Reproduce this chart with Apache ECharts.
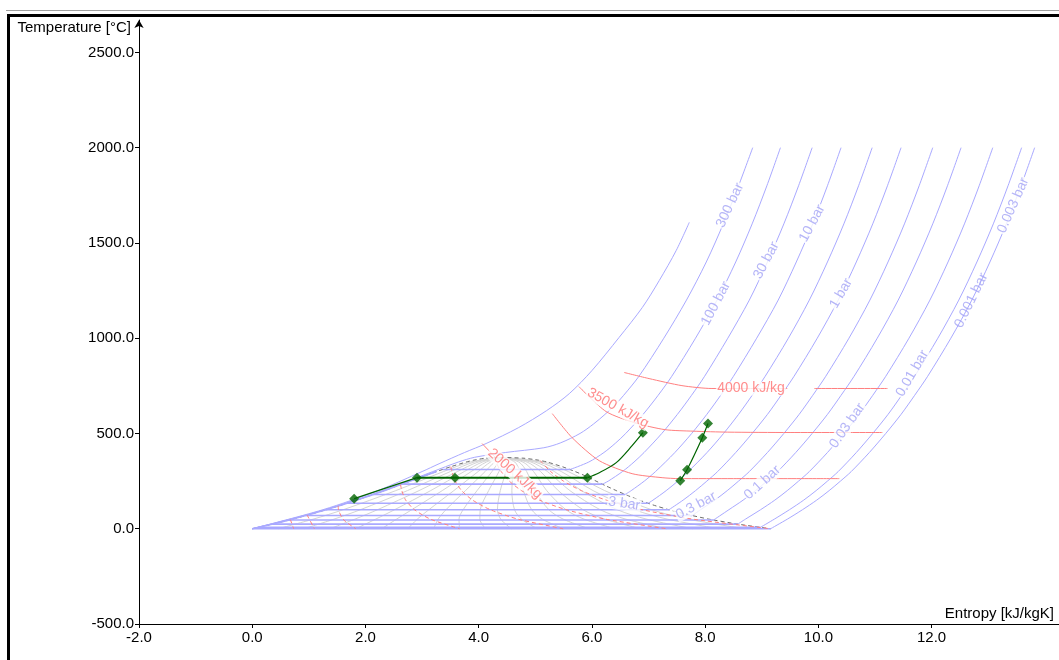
<!DOCTYPE html>
<html><head><meta charset="utf-8">
<script src="https://cdn.jsdelivr.net/npm/echarts@6/dist/echarts.min.js"></script>
<style>html,body{margin:0;padding:0;background:#fff}#c{width:1059px;height:660px}</style>
</head><body><div id="c"></div>
<script>
// ---- axis ticks ----
const xTicks = [-2, 0, 2, 4, 6, 8, 10, 12];
const yTicks = [-500, 0, 500, 1000, 1500, 2000, 2500];

// ---- saturation dome (T in C, s in kJ/kgK) ----
const satT  = [0, 25, 50, 75, 100, 125, 150, 175, 200, 225, 250, 275, 300, 325, 350, 360, 370, 374];
const satSf = [0, 0.367, 0.704, 1.016, 1.307, 1.581, 1.842, 2.091, 2.331, 2.564, 2.793, 3.022, 3.255, 3.501, 3.778, 3.916, 4.113, 4.41];
const satSg = [9.156, 8.557, 8.075, 7.682, 7.354, 7.077, 6.838, 6.626, 6.431, 6.246, 6.073, 5.901, 5.705, 5.482, 5.211, 5.053, 4.800, 4.41];

// ---- isobars (superheated part, [s, T]) ----
const p1000 = [[0,0],[1.25,100],[2.22,200],[3.0,300],[3.30,341],[3.75,400],[4.13,447],[4.7,530],[5.2,620],[5.60,709],[6.0,830],[6.48,1004],[6.89,1161],[7.19,1303],[7.49,1461],[7.72,1608]];
const p300 = [[0,0],[1.29,100],[2.30,200],[3.19,300],[3.64,350],[3.93,375],[4.47,400],[5.15,425],[5.44,450],[5.79,500],[6.03,550],[6.23,600],[6.41,650],[6.56,700],[6.83,800],[7.27,1000],[7.67,1200],[8.02,1400],[8.32,1600],[8.59,1800],[8.84,2000]];
const p100 = [[5.614,311],[5.944,350],[6.212,400],[6.419,450],[6.597,500],[6.903,600],[7.169,700],[7.41,800],[7.83,1000],[8.21,1200],[8.54,1400],[8.83,1600],[9.09,1800],[9.33,2000]];
const p30 = [[6.186,233.9],[6.289,250],[6.539,300],[6.743,350],[6.921,400],[7.234,500],[7.509,600],[7.759,700],[7.99,800],[8.40,1000],[8.78,1200],[9.10,1400],[9.39,1600],[9.65,1800],[9.89,2000]];
const p10 = [[6.586,179.9],[6.694,200],[6.925,250],[7.123,300],[7.465,400],[7.762,500],[8.029,600],[8.273,700],[8.50,800],[8.91,1000],[9.29,1200],[9.61,1400],[9.90,1600],[10.16,1800],[10.40,2000]];
const p3 = [[6.992,133.5],[7.078,150],[7.312,200],[7.517,250],[7.702,300],[8.033,400],[8.325,500],[8.589,600],[8.83,700],[9.06,800],[9.47,1000],[9.84,1200],[10.16,1400],[10.45,1600],[10.71,1800],[10.95,2000]];
const p1 = [[7.359,99.6],[7.61,150],[7.83,200],[8.03,250],[8.22,300],[8.54,400],[8.83,500],[9.10,600],[9.34,700],[9.57,800],[9.98,1000],[10.35,1200],[10.67,1400],[10.96,1600],[11.22,1800],[11.46,2000]];
const p03 = [[7.768,69.1],[7.92,100],[8.17,150],[8.39,200],[8.59,250],[8.78,300],[9.10,400],[9.39,500],[9.66,600],[9.90,700],[10.13,800],[10.54,1000],[10.91,1200],[11.23,1400],[11.52,1600],[11.78,1800],[12.02,2000]];
const p01 = [[8.149,45.8],[8.42,100],[8.67,150],[8.89,200],[9.09,250],[9.28,300],[9.60,400],[9.89,500],[10.16,600],[10.40,700],[10.63,800],[11.04,1000],[11.41,1200],[11.73,1400],[12.02,1600],[12.28,1800],[12.52,2000]];
const p003 = [[8.576,24.1],[8.71,50],[8.98,100],[9.23,150],[9.45,200],[9.65,250],[9.84,300],[10.16,400],[10.45,500],[10.72,600],[10.96,700],[11.19,800],[11.60,1000],[11.97,1200],[12.29,1400],[12.58,1600],[12.84,1800],[13.08,2000]];
const p001 = [[8.975,7],[9.22,50],[9.49,100],[9.74,150],[9.96,200],[10.16,250],[10.35,300],[10.67,400],[10.96,500],[11.23,600],[11.47,700],[11.70,800],[12.11,1000],[12.48,1200],[12.80,1400],[13.09,1600],[13.35,1800],[13.59,2000]];
// 0.003 bar and 0.001 bar lines lie on top of each other (triple-point pressure)
const p0003 = [[9.156,0],[9.45,50],[9.72,100],[9.97,150],[10.19,200],[10.39,250],[10.58,300],[10.90,400],[11.19,500],[11.46,600],[11.70,700],[11.93,800],[12.34,1000],[12.71,1200],[13.03,1400],[13.32,1600],[13.58,1800],[13.82,2000]];

// isobars inside the dome: [s_f, s_g, Tsat]
const domeIsobars = [[3.360,5.614,311.0],[2.646,6.186,233.9],[2.138,6.586,179.9],[1.672,6.992,133.5],[1.303,7.359,99.6],[0.944,7.768,69.1],[0.649,8.149,45.8],[0.354,8.576,24.1],[0.106,8.975,7.0],[0,9.156,0]];

// quality lines: s at T = 0, 50, 100, 200, 300, 350, 374
const qualT = [0, 50, 100, 200, 300, 350, 374];
const qualS = [
 [0.458,1.073,1.609,2.536,3.378,3.850,4.41],
 [0.916,1.441,1.912,2.741,3.500,3.921,4.41],
 [1.373,1.810,2.214,2.946,3.623,3.993,4.41],
 [1.831,2.178,2.516,3.151,3.745,4.065,4.41],
 [2.289,2.547,2.819,3.356,3.868,4.136,4.41],
 [2.747,2.915,3.121,3.561,3.990,4.208,4.41],
 [3.205,3.284,3.423,3.766,4.113,4.280,4.41],
 [3.662,3.652,3.726,3.971,4.235,4.351,4.41],
 [4.120,4.021,4.028,4.176,4.358,4.423,4.41],
 [4.578,4.390,4.331,4.381,4.480,4.495,4.41],
 [5.036,4.758,4.633,4.586,4.603,4.566,4.41],
 [5.494,5.127,4.935,4.791,4.725,4.638,4.41],
 [5.951,5.495,5.238,4.996,4.848,4.709,4.41],
 [6.409,5.864,5.540,5.201,4.970,4.781,4.41],
 [6.867,6.232,5.842,5.406,5.093,4.853,4.41],
 [7.325,6.601,6.145,5.611,5.215,4.924,4.41],
 [7.783,6.969,6.447,5.816,5.338,4.996,4.41],
 [8.240,7.338,6.749,6.021,5.460,5.068,4.41],
 [8.698,7.706,7.052,6.226,5.583,5.139,4.41]
];

// ---- isenthalps [s, T] ----
const h200 = [[0.674,47.8],[0.732,0]];
const h300 = [[0.970,71.6],[1.098,0]];
const h500 = [[1.519,119],[1.524,100],[1.603,50],[1.830,0]];
const h1000 = [[2.619,232],[2.642,200],[2.711,150],[2.864,100],[3.151,50],[3.661,0]];
const h1500 = [[3.508,326],[3.526,300],[3.585,250],[3.699,200],[3.893,150],[4.204,100],[4.698,50],[5.491,0]];
const h2000out = [[4.06,447],[4.30,373]];
const h2000 = [[4.30,373],[4.306,350],[4.398,300],[4.541,250],[4.756,200],[5.074,150],[5.544,100],[6.245,50],[7.322,0]];
const h2500 = [[5.09,357.7],[5.109,350],[5.271,300],[5.497,250],[5.813,200],[6.256,150],[6.884,100],[7.793,50],[9.152,0]];
const h3000 = [[5.30,604],[5.65,478],[6.13,357],[6.71,289],[7.24,268],[7.54,263],[8.5,263],[10.37,263]];
const h3500 = [[5.77,746],[6.25,615],[6.76,556],[7.29,520],[7.79,512],[8.4,507],[9.5,505],[11.13,505]];
const h4000a = [[6.57,820],[7.01,788],[7.59,751],[8.12,736],[9.45,736]];
const h4000b = [[9.93,736],[11.22,736]];

// ---- cycle ----
const cyclePump = [[1.80,158],[2.91,268]];
const cycleBoil = [[2.91,268],[3.58,268],[5.92,268]];
const cycleSuper = [[5.92,268],[6.13,294],[6.43,347],[6.71,436],[6.90,504]];
const cycleTurb = [[7.56,252],[7.68,310],[7.95,478],[8.05,552]];
const cyclePoints = [[1.80,158],[2.91,268],[3.58,268],[5.92,268],[6.90,504],[7.56,252],[7.68,310],[7.95,478],[8.05,552]];

// ---- labels: [text, s, T, rotate, whiteBox] ----
const isobarLabels = [
 ['300 bar', 8.44, 1697, 65, 1], ['100 bar', 8.19, 1182, 62, 1], ['30 bar', 9.08, 1408, 62, 1],
 ['10 bar', 9.89, 1603, 62, 1], ['1 bar', 10.40, 1235, 60, 1], ['0.003 bar', 13.44, 1697, 66, 1],
 ['0.001 bar', 12.70, 1198, 64, 0], ['0.01 bar', 11.66, 815, 60, 1], ['0.03 bar', 10.51, 541, 55, 1],
 ['0.1 bar', 9.01, 242, 42, 1], ['0.3 bar', 7.84, 121, 28, 1], ['3 bar', 6.57, 131, -8, 1]
];
const enthalpyLabels = [
 ['4000 kJ/kg', 8.81, 736, 0, 1], ['3500 kJ/kg', 6.46, 633, -29, 1], ['2000 kJ/kg', 4.64, 289, -42, 1]
];

// ================= build =================
const BLUE = '#a9a9ff', RED = '#ff7f7f', GREEN = '#006400';
const series = [];
function line(data, color, width, type, z, smooth) {
  series.push({type:'line', data, symbol:'none', silent:true, animation:false, z,
    smooth: smooth === undefined ? 0.25 : smooth,
    lineStyle:{color, width, type}});
}
qualS.forEach(row => line(row.map((s,i)=>[s, qualT[i]]), '#d4d4d4', 1, 'solid', 1, 0.3));
line(satSf.map((s,i)=>[s, satT[i]]).concat(satSg.map((s,i)=>[s, satT[i]]).reverse()), '#6e6e6e', 1, [4,3], 2, 0.2);
domeIsobars.forEach(d => line([[d[0],d[2]],[d[1],d[2]]], BLUE, 1.6, 'solid', 3, false));
line(satSf.slice(0,13).map((s,i)=>[s, satT[i]]), BLUE, 1.6, 'solid', 3, 0.2);
[p1000,p300,p100,p30,p10,p3,p1,p03,p01,p003,p001,p0003].forEach(d => line(d, BLUE, 1, 'solid', 3, 0.3));
[h200,h300,h500,h1000,h1500,h2000,h2500].forEach(d => line(d, RED, 1, [4,3], 4, 0.25));
[h2000out,h3000,h3500,h4000a,h4000b].forEach(d => line(d, RED, 1, 'solid', 4));
line(cyclePump, GREEN, 1.2, 'solid', 6, false);
line(cycleBoil, GREEN, 2, 'solid', 6, false);
line(cycleSuper, GREEN, 1.2, 'solid', 6, 0.3);
line(cycleTurb, GREEN, 1.2, 'solid', 6, 0.2);
series.push({type:'scatter', data: cyclePoints, symbol:'diamond', symbolSize:10, z:7, silent:true, animation:false,
  itemStyle:{color:GREEN}});

function labelSeries(list, color) {
  series.push({type:'scatter', z:8, silent:true, animation:false, symbolSize:1,
    itemStyle:{color:'rgba(0,0,0,0)'},
    data: list.map(l => ({value:[l[1], l[2]], label:{show:true, formatter:l[0], rotate:l[3],
      backgroundColor: l[4] ? '#fff' : 'transparent'}})),
    label:{show:true, position:'inside', color, fontSize:14, fontFamily:'Liberation Sans', padding:[0,1]}});
}
labelSeries(isobarLabels, '#a3a3f5');
labelSeries(enthalpyLabels, '#ff7070');

const axisFont = {fontSize:15, fontFamily:'Liberation Sans', color:'#000'};
const chart = echarts.init(document.getElementById('c'), null, {renderer:'canvas'});
chart.setOption({
  backgroundColor:'#fff',
  animation:false,
  grid:{left:139, right:0, top:20, bottom:36},
  xAxis:{type:'value', min:-2, max:14.25, interval:2,
    axisLine:{show:true, onZero:false, lineStyle:{color:'#000', width:1}},
    axisTick:{show:true, length:4, customValues:xTicks, lineStyle:{color:'#000'}},
    axisLabel:Object.assign({margin:6, customValues:xTicks, formatter:v=>v.toFixed(1)}, axisFont),
    splitLine:{show:false}},
  yAxis:{type:'value', min:-500, max:2670, interval:500,
    axisLine:{show:true, onZero:false, symbol:['none','arrow'], symbolSize:[7,8], lineStyle:{color:'#000', width:1}},
    axisTick:{show:true, length:4, customValues:yTicks, lineStyle:{color:'#000'}},
    axisLabel:Object.assign({margin:5, customValues:yTicks, formatter:v=>v.toFixed(1)}, axisFont),
    splitLine:{show:false}},
  graphic:[
    {type:'line', shape:{x1:6,y1:10.5,x2:1059,y2:10.5}, style:{stroke:'#a0a0a0', lineWidth:1}, z:100},
    {type:'line', shape:{x1:7,y1:15.5,x2:1059,y2:15.5}, style:{stroke:'#000', lineWidth:3}, z:100},
    {type:'line', shape:{x1:8.5,y1:14,x2:8.5,y2:660}, style:{stroke:'#000', lineWidth:3}, z:100},
    {type:'text', x:131, y:28, style:{text:'Temperature [°C]', align:'right', verticalAlign:'middle', font:'15px "Liberation Sans"', fill:'#000'}, z:100},
    {type:'text', x:1054, y:614, style:{text:'Entropy [kJ/kgK]', align:'right', verticalAlign:'middle', font:'15px "Liberation Sans"', fill:'#000'}, z:100}
  ],
  series
});
</script></body></html>
